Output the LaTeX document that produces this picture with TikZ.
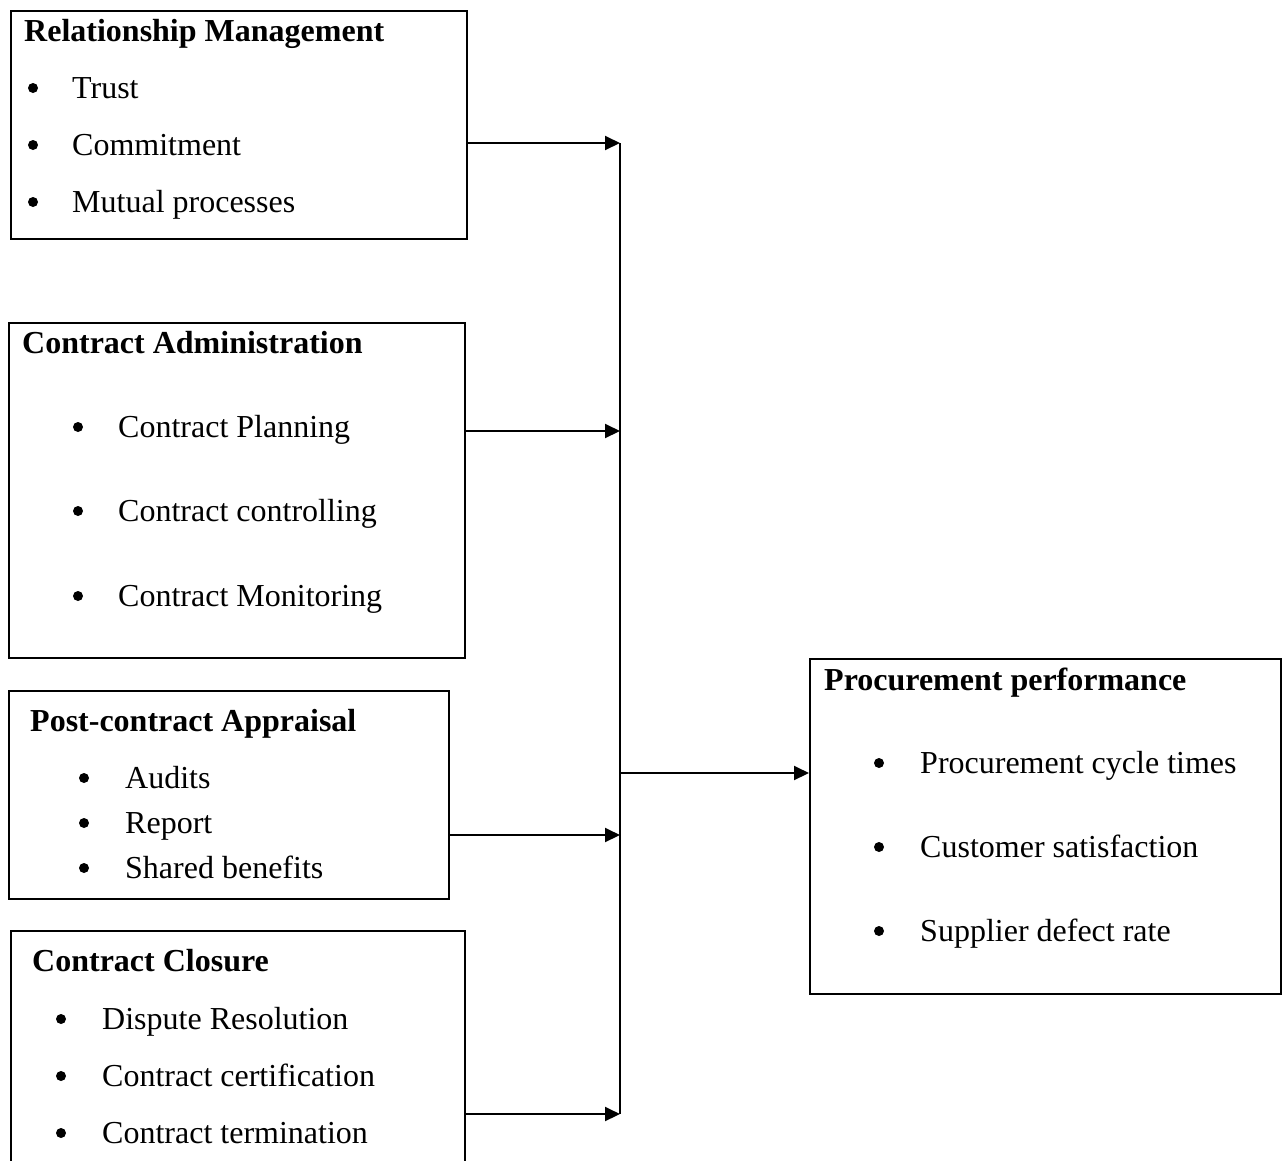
\documentclass[tikz,border=0pt]{standalone}
\usepackage{fontspec}
\setmainfont{Liberation Serif}
\usetikzlibrary{arrows.meta}
\begin{document}
\begin{tikzpicture}[x=1pt,y=-1pt,
  box/.style={draw,line width=2pt,rectangle,anchor=north west,inner sep=0pt},
  ttl/.style={anchor=base west,inner sep=0pt,font=\fontsize{32}{38}\selectfont\bfseries},
  itm/.style={anchor=base west,inner sep=0pt,font=\fontsize{32}{38}\selectfont},
  bul/.style={circle,fill,inner sep=0pt,minimum size=10pt},
  arr/.style={line width=2pt,-{Triangle[length=15pt,width=14pt]}},
  ln/.style={line width=2pt}]
\useasboundingbox (0,0) rectangle (1282,1160);
% boxes
\node[box,minimum width=456pt,minimum height=228pt] (b1) at (10,10) {};
\node[box,minimum width=456pt,minimum height=335pt] (b2) at (8,322) {};
\node[box,minimum width=440pt,minimum height=208pt] (b3) at (8,690) {};
\node[box,minimum width=454pt,minimum height=240pt] (b4) at (10,930) {};
\node[box,minimum width=471pt,minimum height=335pt] (b5) at (809,658) {};
% box 1
\node[ttl] (t1) at (24,41) {Relationship Management};
\node[bul] (d11) at (33,88) {}; \node[itm] (i11) at (72,98) {Trust};
\node[bul] (d12) at (33,145) {}; \node[itm] (i12) at (72,155) {Commitment};
\node[bul] (d13) at (33,202) {}; \node[itm] (i13) at (72,212) {Mutual processes};
% box 2
\node[ttl] (t2) at (22,353) {Contract Administration};
\node[bul] (d21) at (78,427) {}; \node[itm] (i21) at (118,437) {Contract Planning};
\node[bul] (d22) at (78,511) {}; \node[itm] (i22) at (118,521) {Contract controlling};
\node[bul] (d23) at (78,596) {}; \node[itm] (i23) at (118,606) {Contract Monitoring};
% box 3
\node[ttl] (t3) at (30,731) {Post-contract Appraisal};
\node[bul] (d31) at (84,778) {}; \node[itm] (i31) at (125,788) {Audits};
\node[bul] (d32) at (84,823) {}; \node[itm] (i32) at (125,833) {Report};
\node[bul] (d33) at (84,868) {}; \node[itm] (i33) at (125,878) {Shared benefits};
% box 4
\node[ttl] (t4) at (32,971) {Contract Closure};
\node[bul] (d41) at (61,1019) {}; \node[itm] (i41) at (102,1029) {Dispute Resolution};
\node[bul] (d42) at (61,1076) {}; \node[itm] (i42) at (102,1086) {Contract certification};
\node[bul] (d43) at (61,1133) {}; \node[itm] (i43) at (102,1143) {Contract termination};
% box 5
\node[ttl] (t5) at (824,690) {Procurement performance};
\node[bul] (d51) at (879,763) {}; \node[itm] (i51) at (920,773) {Procurement cycle times};
\node[bul] (d52) at (879,847) {}; \node[itm] (i52) at (920,857) {Customer satisfaction};
\node[bul] (d53) at (879,931) {}; \node[itm] (i53) at (920,941) {Supplier defect rate};
% bus
\coordinate (j1) at (620,143);
\coordinate (j2) at (620,431);
\coordinate (jm) at (620,773);
\coordinate (j3) at (620,835);
\coordinate (j4) at (620,1114);
\draw[ln] (j1) -- (j4);
\draw[arr] (b1.east |- j1) -- (j1);
\draw[arr] (b2.east |- j2) -- (j2);
\draw[arr] (b3.east |- j3) -- (j3);
\draw[arr] (b4.east |- j4) -- (j4);
\draw[arr] (jm) -- (b5.west |- jm);
\end{tikzpicture}
\end{document}
